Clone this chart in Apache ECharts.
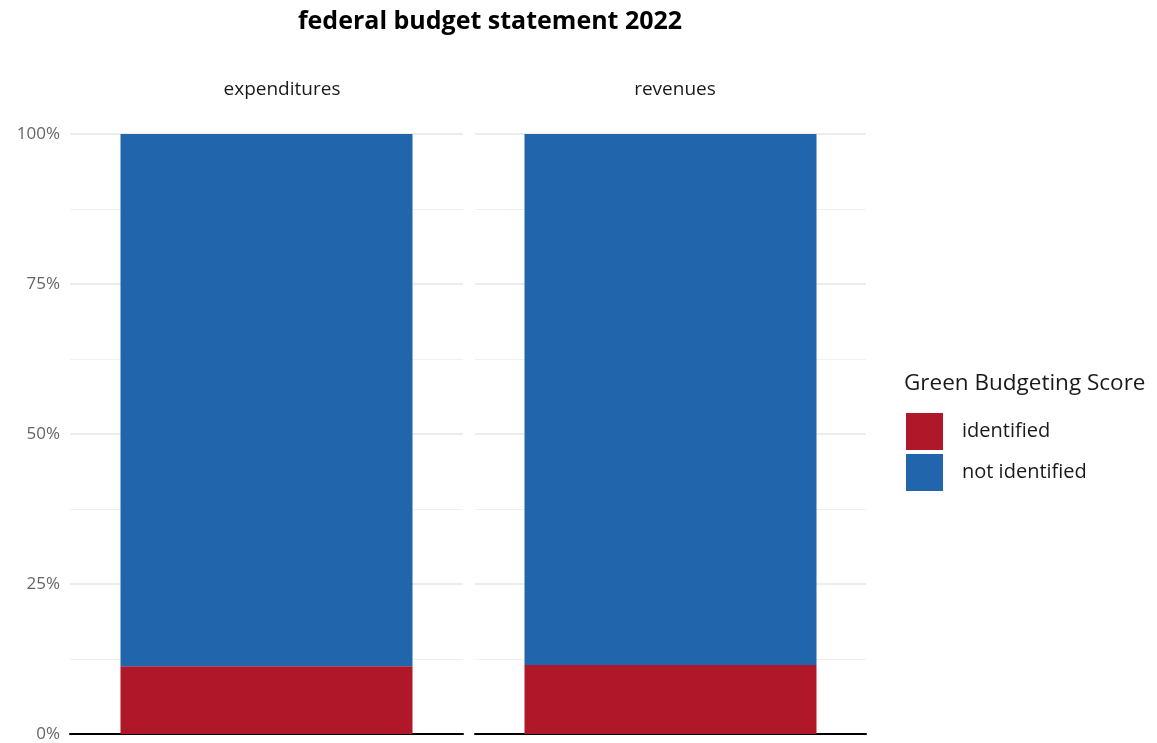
<!DOCTYPE html>
<html>
<head>
<meta charset="utf-8">
<script src="https://cdn.jsdelivr.net/npm/echarts@6/dist/echarts.min.js"></script>
<style>html,body{margin:0;padding:0;background:#fff}#c{width:1157px;height:743px}</style>
</head>
<body>
<div id="c"></div>
<script>
const panels = ['expenditures', 'revenues'];
const identified = [11.3, 11.5];
const notIdentified = [88.7, 88.5];
const yTicks = [0, 25, 50, 75, 100];
const seriesNames = ['identified', 'not identified'];
const colors = ['#B01729', '#2166AC'];

const FONT = '"Open Sans", "Noto Sans", sans-serif';
const chart = echarts.init(document.getElementById('c'));

const grids = [
  { left: 70, top: 134, width: 393, height: 600 },
  { left: 475, top: 134, width: 391, height: 600 }
];

const xAxes = panels.map((p, i) => ({
  type: 'category', gridIndex: i, data: [p],
  axisLine: { show: true, lineStyle: { color: '#000', width: 2 } },
  axisTick: { show: false }, axisLabel: { show: false }, splitLine: { show: false }
}));

const yAxes = panels.map((p, i) => ({
  type: 'value', gridIndex: i, min: 0, max: 100, interval: 25,
  axisLine: { show: false }, axisTick: { show: false },
  axisLabel: { show: i === 0, formatter: v => yTicks.includes(v) ? v + '%' : '', color: '#666', fontSize: 17, fontFamily: FONT, margin: 10 },
  splitLine: { show: true, lineStyle: { color: '#e6e6e6', width: 1.5 } },
  minorTick: { show: false, splitNumber: 2 },
  minorSplitLine: { show: true, lineStyle: { color: '#f0f0f0', width: 1 } }
}));

const series = [];
panels.forEach((p, i) => {
  series.push({ name: seriesNames[0], type: 'bar', stack: 's' + i, xAxisIndex: i, yAxisIndex: i,
    data: [identified[i]], barWidth: 292, itemStyle: { color: colors[0] } });
  series.push({ name: seriesNames[1], type: 'bar', stack: 's' + i, xAxisIndex: i, yAxisIndex: i,
    data: [notIdentified[i]], barWidth: 292, itemStyle: { color: colors[1] } });
});

chart.setOption({
  animation: false,
  backgroundColor: '#fff',
  title: [
    { text: 'federal budget statement 2022', left: 485, top: 4, textAlign: 'center',
      textStyle: { fontSize: 25, fontWeight: 'bold', color: '#000', fontFamily: FONT } },
    { text: panels[0], left: 277, top: 75, textAlign: 'center',
      textStyle: { fontSize: 19, fontWeight: 'normal', color: '#1a1a1a', fontFamily: FONT } },
    { text: panels[1], left: 670, top: 75, textAlign: 'center',
      textStyle: { fontSize: 19, fontWeight: 'normal', color: '#1a1a1a', fontFamily: FONT } }
  ],
  graphic: [
    { type: 'text', left: 904, top: 372,
      style: { text: 'Green Budgeting Score', fontSize: 22.5, fontFamily: FONT, fill: '#1a1a1a' } }
  ],
  legend: {
    data: seriesNames, orient: 'vertical', left: 901, top: 408,
    icon: 'rect', itemWidth: 37, itemHeight: 37, itemGap: 4,
    textStyle: { fontSize: 20, fontFamily: FONT, color: '#1a1a1a', padding: [0, 0, 0, 14] }
  },
  grid: grids,
  xAxis: xAxes,
  yAxis: yAxes,
  series: series
});
</script>
</body>
</html>
